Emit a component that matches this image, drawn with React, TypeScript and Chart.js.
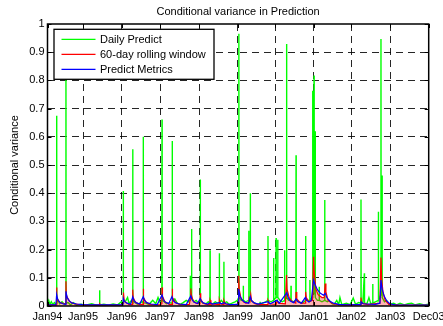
import React, { useEffect, useRef } from 'react';
import { Chart, registerables } from 'chart.js';

Chart.register(...registerables);

const FONT = "'Liberation Sans', Arial, Helvetica, sans-serif";

// ---- axes ----
const xTickDays = [0, 233, 487, 738, 994, 1248, 1494, 1746, 1992, 2248, 2500];
const xTickLabels = ['Jan94', 'Jan95', 'Jan96', 'Jan97', 'Jan98', 'Jan99', 'Jan00', 'Jan01', 'Jan02', 'Jan03', 'Dec03'];
const yTickValues = [0, 0.1, 0.2, 0.3, 0.4, 0.5, 0.6, 0.7, 0.8, 0.9, 1];
const yTickLabels = ['0', '0.1', '0.2', '0.3', '0.4', '0.5', '0.6', '0.7', '0.8', '0.9', '1'];

const chartTitle = 'Conditional variance in Prediction';
const yAxisTitle = 'Conditional variance';
const seriesNames = ['Daily Predict', '60-day rolling window', 'Predict Metrics'];

// ---- Daily Predict (trading-day index, value) ----
const greenDay = [
  0, 8, 15, 25, 35, 45, 55, 59, 60, 61, 70, 80, 95, 110, 120, 121, 122, 135, 150, 170, 190, 220, 250, 290, 320,
  341, 342, 343, 370, 400, 430, 460, 485, 496, 497, 498, 510, 525, 535, 550, 558, 559, 560, 575, 590, 605, 620,
  627, 628, 629, 645, 665, 690, 710, 725, 740, 750, 751, 752, 765, 780, 800, 817, 818, 819, 835, 850, 870, 890,
  910, 925, 935, 936, 937, 944, 945, 946, 960, 975, 990, 1001, 1002, 1003, 1020, 1040, 1055, 1065, 1066, 1067,
  1085, 1100, 1115, 1126, 1127, 1128, 1140, 1156, 1157, 1158, 1175, 1190, 1210, 1230, 1245, 1254, 1255, 1256,
  1270, 1283, 1284, 1285, 1300, 1319, 1320, 1321, 1329, 1330, 1331, 1345, 1360, 1375, 1393, 1394, 1395, 1410,
  1430, 1445, 1446, 1447, 1465, 1482, 1483, 1484, 1498, 1499, 1500, 1509, 1510, 1511, 1525, 1540, 1554, 1555,
  1556, 1567, 1568, 1569, 1582, 1596, 1597, 1598, 1612, 1629, 1630, 1631, 1650, 1670, 1692, 1693, 1694, 1705,
  1720, 1721, 1722, 1738, 1739, 1740, 1747, 1748, 1749, 1755, 1756, 1757, 1770, 1781, 1782, 1783, 1800, 1817,
  1818, 1819, 1835, 1848, 1865, 1880, 1897, 1910, 1918, 1930, 1960, 1985, 2005, 2020, 2040, 2055, 2056, 2057,
  2068, 2078, 2079, 2095, 2108, 2120, 2132, 2133, 2134, 2150, 2169, 2170, 2171, 2180, 2186, 2187, 2188, 2193,
  2194, 2195, 2210, 2224, 2240, 2270, 2290, 2312, 2340, 2365, 2388, 2410, 2440, 2470, 2500,
];
const greenVal = [
  0.01, 0.02, 0.006, 0.015, 0.005, 0.012, 0.006, 0.01, 0.675, 0.012, 0.02, 0.008, 0.015, 0.006, 0.01, 0.85, 0.01, 0.012, 0.004, 0.012, 0.003, 0.006, 0.003, 0.008, 0.003,
  0.004, 0.056, 0.004, 0.006, 0.003, 0.007, 0.004, 0.015, 0.01, 0.408, 0.02, 0.015, 0.03, 0.008, 0.02, 0.01, 0.556, 0.02, 0.012, 0.006, 0.01, 0.015,
  0.01, 0.6, 0.012, 0.01, 0.005, 0.02, 0.008, 0.03, 0.01, 0.02, 0.661, 0.02, 0.015, 0.008, 0.012, 0.01, 0.585, 0.015, 0.025, 0.01, 0.006, 0.012,
  0.02, 0.015, 0.02, 0.107, 0.03, 0.03, 0.273, 0.03, 0.015, 0.02, 0.01, 0.02, 0.449, 0.02, 0.01, 0.008, 0.015, 0.01, 0.198, 0.01,
  0.008, 0.015, 0.01, 0.012, 0.187, 0.01, 0.02, 0.01, 0.157, 0.01, 0.015, 0.006, 0.01, 0.015, 0.02, 0.03, 0.965, 0.03,
  0.02, 0.02, 0.072, 0.02, 0.015, 0.02, 0.267, 0.02, 0.02, 0.4, 0.02, 0.015, 0.01, 0.006, 0.006, 0.015, 0.006, 0.01,
  0.015, 0.02, 0.248, 0.02, 0.015, 0.02, 0.17, 0.02, 0.03, 0.241, 0.03, 0.03, 0.235, 0.03, 0.02, 0.015, 0.02, 0.198,
  0.02, 0.03, 0.929, 0.03, 0.02, 0.02, 0.072, 0.02, 0.015, 0.02, 0.535, 0.02, 0.015, 0.01, 0.02, 0.248, 0.02, 0.02,
  0.02, 0.092, 0.02, 0.03, 0.763, 0.05, 0.05, 0.817, 0.05, 0.04, 0.62, 0.03, 0.02, 0.02, 0.068, 0.02, 0.015, 0.02,
  0.376, 0.02, 0.015, 0.02, 0.008, 0.006, 0.02, 0.005, 0.03, 0.005, 0.01, 0.005, 0.028, 0.006, 0.012, 0.01, 0.378, 0.01,
  0.01, 0.116, 0.01, 0.008, 0.03, 0.008, 0.01, 0.078, 0.01, 0.015, 0.02, 0.334, 0.02, 0.03, 0.04, 0.947, 0.04, 0.04,
  0.463, 0.03, 0.015, 0.02, 0.006, 0.01, 0.004, 0.01, 0.004, 0.008, 0.01, 0.004, 0.008, 0.004, 0.006,
];

// ---- 60-day rolling window ----
const redDay = [
  0, 59, 60, 62, 70, 85, 110, 120, 121, 123, 135, 150, 175, 210, 260, 340, 342, 350, 490, 496, 497, 500, 503, 515,
  535, 558, 559, 562, 575, 600, 627, 628, 631, 645, 670, 700, 740, 750, 751, 754, 770, 800, 817, 818, 821, 840,
  870, 930, 938, 940, 943, 955, 975, 1000, 1002, 1005, 1020, 1050, 1064, 1066, 1072, 1125, 1127, 1133, 1155, 1157,
  1165, 1200, 1250, 1254, 1257, 1268, 1285, 1300, 1320, 1323, 1328, 1333, 1338, 1360, 1400, 1444, 1446, 1455,
  1500, 1506, 1515, 1560, 1568, 1571, 1585, 1605, 1628, 1630, 1635, 1660, 1690, 1693, 1697, 1715, 1738, 1745,
  1749, 1760, 1775, 1800, 1815, 1821, 1826, 1840, 1870, 1920, 2050, 2056, 2062, 2100, 2180, 2187, 2191, 2200,
  2215, 2240, 2300, 2500,
];
const redVal = [
  0.004, 0.004, 0.066, 0.03, 0.02, 0.012, 0.008, 0.008, 0.088, 0.04, 0.025, 0.014, 0.008, 0.005, 0.003, 0.003, 0.008, 0.003, 0.003, 0.01, 0.048, 0.045, 0.02, 0.012,
  0.006, 0.006, 0.058, 0.03, 0.015, 0.006, 0.006, 0.061, 0.03, 0.015, 0.006, 0.004, 0.005, 0.008, 0.066, 0.035, 0.015, 0.006, 0.006, 0.061, 0.03, 0.012,
  0.005, 0.006, 0.03, 0.062, 0.04, 0.018, 0.01, 0.008, 0.045, 0.025, 0.01, 0.005, 0.005, 0.02, 0.008, 0.005, 0.02, 0.008, 0.005, 0.02,
  0.008, 0.004, 0.006, 0.107, 0.06, 0.03, 0.015, 0.01, 0.012, 0.027, 0.02, 0.041, 0.02, 0.008, 0.005, 0.005, 0.02, 0.008,
  0.006, 0.02, 0.01, 0.008, 0.11, 0.06, 0.03, 0.015, 0.01, 0.05, 0.025, 0.01, 0.01, 0.05, 0.03, 0.015, 0.02, 0.175,
  0.12, 0.06, 0.04, 0.03, 0.03, 0.08, 0.05, 0.02, 0.008, 0.004, 0.005, 0.03, 0.01, 0.005, 0.01, 0.172, 0.1, 0.05,
  0.02, 0.006, 0.003, 0.003,
];

// ---- Predict Metrics ----
const blueDay = [
  0, 55, 60, 68, 80, 100, 120, 121, 129, 142, 160, 190, 230, 300, 495, 497, 505, 520, 545, 559, 567, 580, 605,
  628, 636, 650, 680, 720, 751, 759, 772, 795, 816, 824, 838, 865, 910, 940, 948, 962, 985, 1001, 1009, 1025,
  1050, 1066, 1080, 1127, 1140, 1157, 1170, 1200, 1250, 1254, 1262, 1275, 1295, 1320, 1330, 1338, 1352, 1380,
  1446, 1460, 1506, 1520, 1570, 1578, 1592, 1615, 1630, 1642, 1665, 1691, 1700, 1715, 1730, 1745, 1755, 1770,
  1790, 1810, 1821, 1832, 1850, 1875, 1910, 1960, 2050, 2056, 2070, 2150, 2180, 2187, 2195, 2208, 2225, 2245,
  2280, 2500,
];
const blueVal = [
  0.004, 0.004, 0.041, 0.022, 0.013, 0.008, 0.006, 0.052, 0.03, 0.018, 0.011, 0.007, 0.005, 0.004, 0.004, 0.027, 0.016, 0.01, 0.006, 0.033, 0.02, 0.012, 0.007,
  0.033, 0.02, 0.012, 0.007, 0.005, 0.039, 0.023, 0.014, 0.008, 0.033, 0.02, 0.012, 0.007, 0.005, 0.036, 0.022, 0.013, 0.009, 0.027, 0.017, 0.01,
  0.007, 0.012, 0.007, 0.012, 0.008, 0.012, 0.008, 0.005, 0.006, 0.06, 0.035, 0.022, 0.013, 0.01, 0.033, 0.02, 0.012, 0.007,
  0.015, 0.008, 0.02, 0.01, 0.047, 0.03, 0.018, 0.012, 0.025, 0.015, 0.01, 0.03, 0.02, 0.014, 0.02, 0.092, 0.075, 0.058,
  0.045, 0.038, 0.045, 0.03, 0.018, 0.01, 0.006, 0.004, 0.005, 0.015, 0.008, 0.006, 0.01, 0.092, 0.06, 0.035, 0.018, 0.008,
  0.004, 0.003,
];

const GREEN = '#00ff00';
const RED = '#ff0000';
const BLUE = '#0000ff';

const toPoints = (days: number[], vals: number[]) => days.map((d, i) => ({ x: d, y: vals[i] }));

const framePlugin = {
  id: 'matlabFrame',
  afterDraw(chart: any) {
    const { ctx, chartArea, scales } = chart;
    const { left, right, top, bottom } = chartArea;
    ctx.save();
    // inward ticks
    ctx.strokeStyle = '#000';
    ctx.lineWidth = 1;
    ctx.setLineDash([]);
    ctx.beginPath();
    for (const v of xTickDays) {
      const x = Math.round(scales.x.getPixelForValue(v)) + 0.5;
      ctx.moveTo(x, bottom);
      ctx.lineTo(x, bottom - 4);
      ctx.moveTo(x, top);
      ctx.lineTo(x, top + 4);
    }
    for (const v of yTickValues) {
      const y = Math.round(scales.y.getPixelForValue(v)) + 0.5;
      ctx.moveTo(left, y);
      ctx.lineTo(left + 4, y);
      ctx.moveTo(right, y);
      ctx.lineTo(right - 4, y);
    }
    ctx.stroke();
    // box
    ctx.lineWidth = 1.5;
    ctx.strokeRect(left, top, right - left, bottom - top);

    // legend
    const lx = left + 6.5;
    const ly = top + 5.3;
    const lw = 160;
    const lh = 50;
    ctx.fillStyle = '#fff';
    ctx.fillRect(lx, ly, lw, lh);
    ctx.lineWidth = 1.3;
    ctx.strokeStyle = '#000';
    ctx.strokeRect(lx, ly, lw, lh);
    const colors = [GREEN, RED, BLUE];
    ctx.font = `11px ${FONT}`;
    ctx.textBaseline = 'middle';
    ctx.textAlign = 'left';
    seriesNames.forEach((name, i) => {
      const yy = ly + 10 + i * 15;
      ctx.strokeStyle = colors[i];
      ctx.lineWidth = 1.2;
      ctx.beginPath();
      ctx.moveTo(lx + 7.5, yy);
      ctx.lineTo(lx + 41.5, yy);
      ctx.stroke();
      ctx.fillStyle = '#000';
      ctx.fillText(name, lx + 46, yy + 0.5);
    });
    ctx.restore();
  },
};

export default function App() {
  const canvasRef = useRef<HTMLCanvasElement | null>(null);

  useEffect(() => {
    const canvas = canvasRef.current;
    if (!canvas) return;
    const gridColor = (c: any) => {
      const v = c.tick ? c.tick.value : null;
      return v === 0 || v === 1 || v === 2500 ? 'rgba(0,0,0,0)' : 'rgba(0,0,0,0.85)';
    };
    const chart = new Chart(canvas, {
      type: 'line',
      data: {
        datasets: [
          {
            label: seriesNames[2],
            data: toPoints(blueDay, blueVal),
            borderColor: BLUE,
            borderWidth: 1.2,
            pointRadius: 0,
            tension: 0,
            fill: false,
            order: 1,
          },
          {
            label: seriesNames[1],
            data: toPoints(redDay, redVal),
            borderColor: RED,
            backgroundColor: 'rgba(255,0,0,0.3)',
            borderWidth: 1.2,
            pointRadius: 0,
            tension: 0,
            fill: 'origin',
            order: 2,
          },
          {
            label: seriesNames[0],
            data: toPoints(greenDay, greenVal),
            borderColor: GREEN,
            borderWidth: 1.4,
            pointRadius: 0,
            tension: 0,
            fill: false,
            order: 3,
          },
        ],
      },
      options: {
        animation: false,
        responsive: false,
        devicePixelRatio: 1,
        layout: { padding: { left: 0, right: 14.3, top: 0, bottom: 0 } },
        plugins: {
          legend: { display: false },
          tooltip: { enabled: false },
          title: {
            display: true,
            fullSize: false,
            text: chartTitle,
            color: '#000',
            font: { family: FONT, size: 11, weight: 'normal' },
            padding: { top: 5, bottom: 5.8 },
          },
        },
        scales: {
          x: {
            type: 'linear',
            min: 0,
            max: 2500,
            afterBuildTicks: (scale: any) => {
              scale.ticks = xTickDays.map((v) => ({ value: v }));
            },
            afterFit: (scale: any) => {
              scale.height = 20;
              scale.paddingLeft = 0;
              scale.paddingRight = 0;
            },
            ticks: {
              autoSkip: false,
              maxRotation: 0,
              minRotation: 0,
              padding: 4,
              color: '#000',
              font: { family: FONT, size: 11 },
              callback: (_v: any, i: number) => xTickLabels[i],
            },
            grid: { color: gridColor, lineWidth: 1, drawTicks: false },
            border: { display: false, dash: [7, 5] },
          },
          y: {
            type: 'linear',
            min: 0,
            max: 1,
            afterBuildTicks: (scale: any) => {
              scale.ticks = yTickValues.map((v) => ({ value: v }));
            },
            afterFit: (scale: any) => {
              scale.width = 47.5;
              scale.paddingTop = 0;
              scale.paddingBottom = 0;
            },
            ticks: {
              padding: 3,
              color: '#000',
              font: { family: FONT, size: 11 },
              callback: (_v: any, i: number) => yTickLabels[i],
            },
            title: {
              display: true,
              text: yAxisTitle,
              color: '#000',
              font: { family: FONT, size: 11 },
              padding: { top: 8, bottom: 0 },
            },
            grid: { color: gridColor, lineWidth: 1, drawTicks: false },
            border: { display: false, dash: [7, 5] },
          },
        },
      },
      plugins: [framePlugin],
    } as any);
    return () => chart.destroy();
  }, []);

  return (
    <div style={{ position: 'fixed', left: 0, top: 0, width: 443, height: 326, background: '#fff' }}>
      <canvas ref={canvasRef} width={443} height={326} style={{ width: 443, height: 326, display: 'block' }} />
    </div>
  );
}
